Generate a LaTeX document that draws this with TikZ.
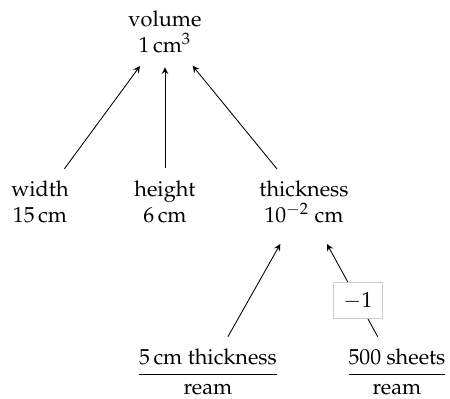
\documentclass[tikz,border=0pt]{standalone}
\usepackage[T1]{fontenc}
\usepackage{mathpazo}
\usepackage{amsmath}

\begin{document}
\begin{tikzpicture}[x=0.461pt,y=-0.461pt,
    quantity/.style={align=center},
    factor/.style={draw=gray!40,fill=white,inner sep=4.5pt},
    arr/.style={-stealth,shorten >=3pt,shorten <=2.5pt}]
    \useasboundingbox (0,0) rectangle (450,398);
    % result
    \node[quantity] (volume) at (165,32) {volume\\1\,cm$^3$};
    % inputs
    \node[quantity] (width) at (40,202) {width\\15\,cm};
    \node[quantity] (height) at (165,202) {height\\6\,cm};
    \node[quantity] (thickness) at (304,202) {thickness\\$10^{-2}$ cm};
    \node (ream) at (208,372) {$\dfrac{\text{5\,cm thickness}}{\text{ream}}$};
    \node (sheets) at (397,372) {$\dfrac{\text{500 sheets}}{\text{ream}}$};
    % edges
    \draw[arr] (width) -- (volume);
    \draw[arr] (height) -- (volume);
    \draw[arr] (thickness) -- (volume);
    \draw[arr,shorten >=7pt] (ream) -- (thickness);
    \draw[arr,shorten >=7pt] (sheets) -- node[factor,pos=0.37] {$-1$} (thickness);
  \end{tikzpicture}
\end{document}
